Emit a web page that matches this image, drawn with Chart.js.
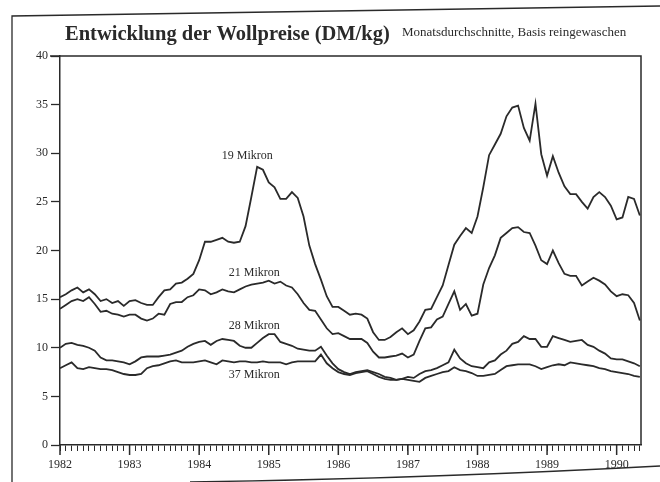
<!DOCTYPE html>
<html lang="de">
<head>
<meta charset="utf-8">
<title>Entwicklung der Wollpreise</title>
<script src="https://cdn.jsdelivr.net/npm/chart.js@4.4.1/dist/chart.umd.min.js"></script>
<style>
    html, body { margin: 0; padding: 0; background: #ffffff; }
    #wrap { width: 660px; height: 482px; position: relative; }
</style>
</head>
<body>
<div id="wrap"><canvas id="wollChart"></canvas></div>
<script>
// Monthly averages, Jan 1982 .. May 1990 (DM/kg, scoured basis)
const yearLabels = ['1982', '1983', '1984', '1985', '1986', '1987', '1988', '1989', '1990'];
const seriesNames = ['19 Mikron', '21 Mikron', '28 Mikron', '37 Mikron'];

const mikron19 = [
    15.2, 15.5, 15.9, 16.2, 15.7, 16.0, 15.5, 14.8, 15.0, 14.6, 14.8, 14.3,
    14.8, 14.9, 14.6, 14.4, 14.4, 15.2, 15.9, 16.0, 16.6, 16.7, 17.1, 17.6,
    19.0, 20.9, 20.9, 21.1, 21.3, 20.9, 20.8, 20.9, 22.5, 25.5, 28.6, 28.3,
    27.0, 26.5, 25.3, 25.3, 26.0, 25.4, 23.5, 20.5, 18.6, 17.0, 15.3, 14.2,
    14.2, 13.8, 13.4, 13.5, 13.4, 13.0, 11.6, 10.8, 10.8, 11.1, 11.6, 12.0,
    11.4, 11.8, 12.7, 13.9, 14.0, 15.2, 16.4, 18.5, 20.6, 21.5, 22.3, 21.8,
    23.5, 26.5, 29.8, 30.9, 32.0, 33.8, 34.7, 34.9, 32.6, 31.3, 35.1, 29.9,
    27.7, 29.7, 28.0, 26.6, 25.8, 25.8, 25.0, 24.3, 25.5, 26.0, 25.5, 24.6,
    23.2, 23.4, 25.5, 25.3, 23.6
];
const mikron21 = [
    14.0, 14.4, 14.8, 15.0, 14.8, 15.2, 14.5, 13.7, 13.8, 13.5, 13.4, 13.2,
    13.4, 13.4, 13.0, 12.8, 13.0, 13.5, 13.4, 14.5, 14.7, 14.7, 15.2, 15.4,
    16.0, 15.9, 15.5, 15.7, 16.0, 15.8, 15.7, 16.0, 16.3, 16.5, 16.6, 16.7,
    16.9, 16.6, 16.8, 16.4, 16.2, 15.5, 14.6, 13.9, 13.8, 12.9, 12.0, 11.4,
    11.5, 11.2, 10.9, 10.9, 10.9, 10.5, 9.6, 9.0, 9.0, 9.1, 9.2, 9.4,
    9.0, 9.3, 10.7, 12.0, 12.1, 12.9, 13.2, 14.5, 15.8, 13.9, 14.5, 13.3,
    13.5, 16.5, 18.2, 19.5, 21.3, 21.8, 22.3, 22.4, 21.9, 21.8, 20.5, 19.0,
    18.6, 20.0, 18.7, 17.6, 17.4, 17.4, 16.4, 16.8, 17.2, 16.9, 16.5, 15.8,
    15.3, 15.5, 15.4, 14.6, 12.8
];
const mikron28 = [
    10.0, 10.4, 10.5, 10.3, 10.2, 10.0, 9.7, 9.0, 8.7, 8.7, 8.6, 8.5,
    8.3, 8.6, 9.0, 9.1, 9.1, 9.1, 9.2, 9.3, 9.5, 9.7, 10.1, 10.4,
    10.6, 10.7, 10.3, 10.7, 10.9, 10.8, 10.7, 10.2, 10.0, 10.0, 10.5, 11.0,
    11.4, 11.4, 10.6, 10.4, 10.2, 9.9, 9.8, 9.7, 9.7, 10.1, 9.2, 8.4,
    7.8, 7.5, 7.3, 7.5, 7.6, 7.7, 7.5, 7.3, 7.0, 6.9, 6.7, 6.8,
    7.0, 6.9, 7.3, 7.6, 7.7, 7.9, 8.2, 8.5, 9.8, 8.9, 8.4, 8.1,
    8.0, 7.9, 8.5, 8.7, 9.3, 9.7, 10.4, 10.6, 11.2, 10.9, 10.9, 10.1,
    10.1, 11.2, 11.0, 10.8, 10.6, 10.7, 10.8, 10.3, 10.1, 9.7, 9.4, 8.9,
    8.8, 8.8, 8.6, 8.4, 8.1
];
const mikron37 = [
    7.9, 8.2, 8.5, 7.9, 7.8, 8.0, 7.9, 7.8, 7.8, 7.7, 7.5, 7.3,
    7.2, 7.2, 7.3, 7.9, 8.1, 8.2, 8.4, 8.6, 8.7, 8.5, 8.5, 8.5,
    8.6, 8.7, 8.5, 8.3, 8.7, 8.6, 8.5, 8.6, 8.6, 8.5, 8.5, 8.6,
    8.5, 8.5, 8.5, 8.3, 8.5, 8.6, 8.6, 8.6, 8.6, 9.3, 8.4, 7.9,
    7.5, 7.3, 7.2, 7.4, 7.5, 7.6, 7.3, 7.0, 6.8, 6.7, 6.7, 6.8,
    6.7, 6.6, 6.5, 6.9, 7.1, 7.3, 7.5, 7.6, 8.0, 7.7, 7.6, 7.4,
    7.1, 7.1, 7.2, 7.3, 7.7, 8.1, 8.2, 8.3, 8.3, 8.3, 8.1, 7.8,
    8.0, 8.2, 8.3, 8.2, 8.5, 8.4, 8.3, 8.2, 8.1, 7.9, 7.8, 7.6,
    7.5, 7.4, 7.3, 7.1, 7.0
];

// label anchors in data units (month index, DM/kg)
const labelAnchors = [[32.3, 29.7], [33.5, 17.7], [33.5, 12.3], [33.5, 7.2]];

const ink = '#2a2a2a';
const serif = '"Liberation Serif", "DejaVu Serif", serif';

function toPoints(values) {
    return values.map((v, i) => ({ x: i, y: v }));
}

// extra drawing: title, plot box, long year ticks, series labels, page frame
const decorPlugin = {
    id: 'decor',
    afterDraw(chart) {
        const ctx = chart.ctx;
        const area = chart.chartArea;
        const xs = chart.scales.x;
        const ys = chart.scales.y;
        ctx.save();
        ctx.strokeStyle = ink;
        ctx.fillStyle = ink;

        // page frame (scanned sheet)
        ctx.lineWidth = 1.3;
        ctx.beginPath();
        ctx.moveTo(12, 482);
        ctx.lineTo(12, 16);
        ctx.lineTo(660, 6);
        ctx.stroke();
        ctx.beginPath();
        ctx.moveTo(190, 482);
        ctx.quadraticCurveTo(440, 478, 660, 466);
        ctx.stroke();

        // top and right border of the plot box
        ctx.lineWidth = 1.5;
        ctx.beginPath();
        ctx.moveTo(area.left - 10, area.top);
        ctx.lineTo(area.right, area.top);
        ctx.lineTo(area.right, area.bottom);
        ctx.stroke();

        // longer ticks at each January
        yearLabels.forEach((y, i) => {
            const px = xs.getPixelForValue(i * 12);
            ctx.beginPath();
            ctx.moveTo(px, area.bottom);
            ctx.lineTo(px, area.bottom + 10);
            ctx.stroke();
        });

        // title + subtitle
        ctx.textBaseline = 'alphabetic';
        ctx.textAlign = 'left';
        ctx.font = 'bold 20.5px ' + serif;
        ctx.fillText('Entwicklung der Wollpreise (DM/kg)', 65, 40);
        ctx.font = '13px ' + serif;
        ctx.fillText('Monatsdurchschnitte, Basis reingewaschen', 402, 36);

        // series labels
        ctx.font = '12px ' + serif;
        ctx.textAlign = 'center';
        ctx.textBaseline = 'middle';
        seriesNames.forEach((name, i) => {
            const a = labelAnchors[i];
            ctx.fillText(name, xs.getPixelForValue(a[0]), ys.getPixelForValue(a[1]));
        });
        ctx.restore();
    }
};

document.addEventListener('DOMContentLoaded', function() {

    const lineStyle = {
        borderColor: ink,
        borderWidth: 1.8,
        pointRadius: 0,
        tension: 0,
        fill: false
    };

    const ctx = document.getElementById('wollChart').getContext('2d');
    new Chart(ctx, {
        type: 'line',
        data: {
            datasets: [
                { label: seriesNames[0], data: toPoints(mikron19), ...lineStyle },
                { label: seriesNames[1], data: toPoints(mikron21), ...lineStyle },
                { label: seriesNames[2], data: toPoints(mikron28), ...lineStyle },
                { label: seriesNames[3], data: toPoints(mikron37), ...lineStyle }
            ]
        },
        options: {
            responsive: true,
            maintainAspectRatio: false,
            animation: false,
            layout: { padding: { top: 56, right: 19, bottom: 7, left: 0 } },
            plugins: {
                legend: { display: false },
                tooltip: { enabled: false }
            },
            scales: {
                x: {
                    type: 'linear',
                    min: 0,
                    max: 100.2,
                    afterBuildTicks: scale => {
                        const t = [];
                        for (let m = 0; m <= 100; m++) t.push({ value: m });
                        scale.ticks = t;
                    },
                    afterFit: scale => { scale.height = 30; },
                    ticks: {
                        autoSkip: false,
                        maxRotation: 0,
                        padding: 7,
                        color: ink,
                        font: { family: serif, size: 12 },
                        callback: v => (v % 12 === 0 ? yearLabels[v / 12] : '')
                    },
                    grid: {
                        drawOnChartArea: false,
                        drawTicks: true,
                        tickLength: 6,
                        tickWidth: 1,
                        tickColor: ink
                    },
                    border: { color: ink, width: 1.5 }
                },
                y: {
                    min: 0,
                    max: 40,
                    afterFit: scale => { scale.width = 60; },
                    ticks: {
                        stepSize: 5,
                        padding: 3,
                        color: ink,
                        font: { family: serif, size: 12 }
                    },
                    grid: {
                        drawOnChartArea: false,
                        drawTicks: true,
                        tickLength: 9,
                        tickWidth: 1.3,
                        tickColor: ink
                    },
                    border: { color: ink, width: 1.5 }
                }
            }
        },
        plugins: [decorPlugin]
    });
});
</script>
</body>
</html>
